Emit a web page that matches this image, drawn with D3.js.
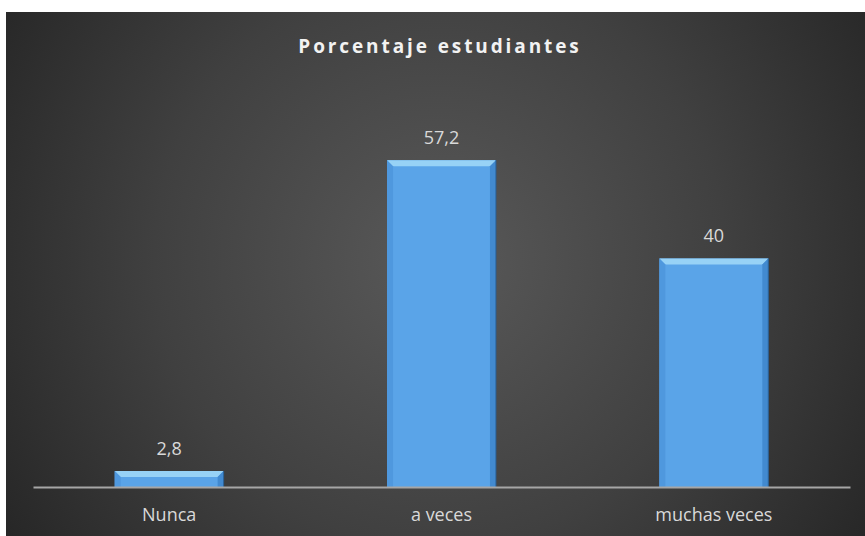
<!DOCTYPE html>
<html><head><meta charset="utf-8">
<script src="https://cdn.jsdelivr.net/npm/d3@7"></script>
<style>html,body{margin:0;padding:0;background:#fff;}svg{display:block;}</style>
</head><body>
<script>
const categories = ["Nunca", "a veces", "muchas veces"];
const values = [2.8, 57.2, 40];
const valueLabels = ["2,8", "57,2", "40"];
const title = "Porcentaje estudiantes";

const W = 865, H = 536;
const svg = d3.select("body").append("svg").attr("width", W).attr("height", H);
const defs = svg.append("defs");
const rg = defs.append("radialGradient").attr("id","bg").attr("gradientUnits","userSpaceOnUse")
  .attr("cx",440).attr("cy",260).attr("r",520);
rg.append("stop").attr("offset","0%").attr("stop-color","#595959");
rg.append("stop").attr("offset","55%").attr("stop-color","#404040");
rg.append("stop").attr("offset","100%").attr("stop-color","#262626");

svg.append("rect").attr("x",6).attr("y",12).attr("width",W-6).attr("height",H-12).attr("fill","url(#bg)");

const left = 33, right = 850, base = 487;
const x = d3.scaleBand().domain(categories).range([left, right]).paddingInner(0.6).paddingOuter(0.3);
const y = d3.scaleLinear().domain([0, 70]).range([base, base - 400]);

svg.append("text").attr("x", 440).attr("y", 53).attr("text-anchor","middle")
  .attr("font-family","'Open Sans', sans-serif").attr("font-weight","bold").attr("font-size",19)
  .attr("letter-spacing","2.9").attr("fill","#f2f2f2").text(title);

const bw = x.bandwidth();
const bev = 6;
const g = svg.append("g");
categories.forEach((c, i) => {
  const x0 = x(c), y0 = y(values[i]), h = base - y0;
  const gg = g.append("g");
  gg.append("rect").attr("x", x0).attr("y", y0).attr("width", bw).attr("height", h).attr("fill", "#5aa4e8");
  const b = Math.min(bev, h/2);
  gg.append("path").attr("d", `M${x0},${y0}L${x0+bw},${y0}L${x0+bw-b},${y0+b}L${x0+b},${y0+b}Z`).attr("fill","#97d2f6");
  gg.append("path").attr("d", `M${x0},${y0}L${x0+b},${y0+b}L${x0+b},${base}L${x0},${base}Z`).attr("fill","#4f98de");
  gg.append("path").attr("d", `M${x0+bw},${y0}L${x0+bw-b},${y0+b}L${x0+bw-b},${base}L${x0+bw},${base}Z`).attr("fill","#428ad0");
  gg.append("line").attr("x1", x0+bw).attr("x2", x0+bw).attr("y1", y0).attr("y2", base).attr("stroke","#2a5e93").attr("stroke-width",1);
  svg.append("text").attr("x", x0 + bw/2).attr("y", y0 - 16).attr("text-anchor","middle")
    .attr("font-family","'Open Sans', sans-serif").attr("font-size",18).attr("fill","#d9d9d9").text(valueLabels[i]);
});

const xAxis = d3.axisBottom(x).tickSize(0).tickPadding(0);
const ax = svg.append("g").attr("transform", `translate(0,${base})`).call(xAxis);
ax.select(".domain").attr("stroke","#a6a6a6").attr("stroke-width",2);
ax.selectAll("text").attr("dy", null).attr("y", 34)
  .attr("font-family","'Open Sans', sans-serif").attr("font-size",18).attr("fill","#d9d9d9");
</script>
</body></html>
